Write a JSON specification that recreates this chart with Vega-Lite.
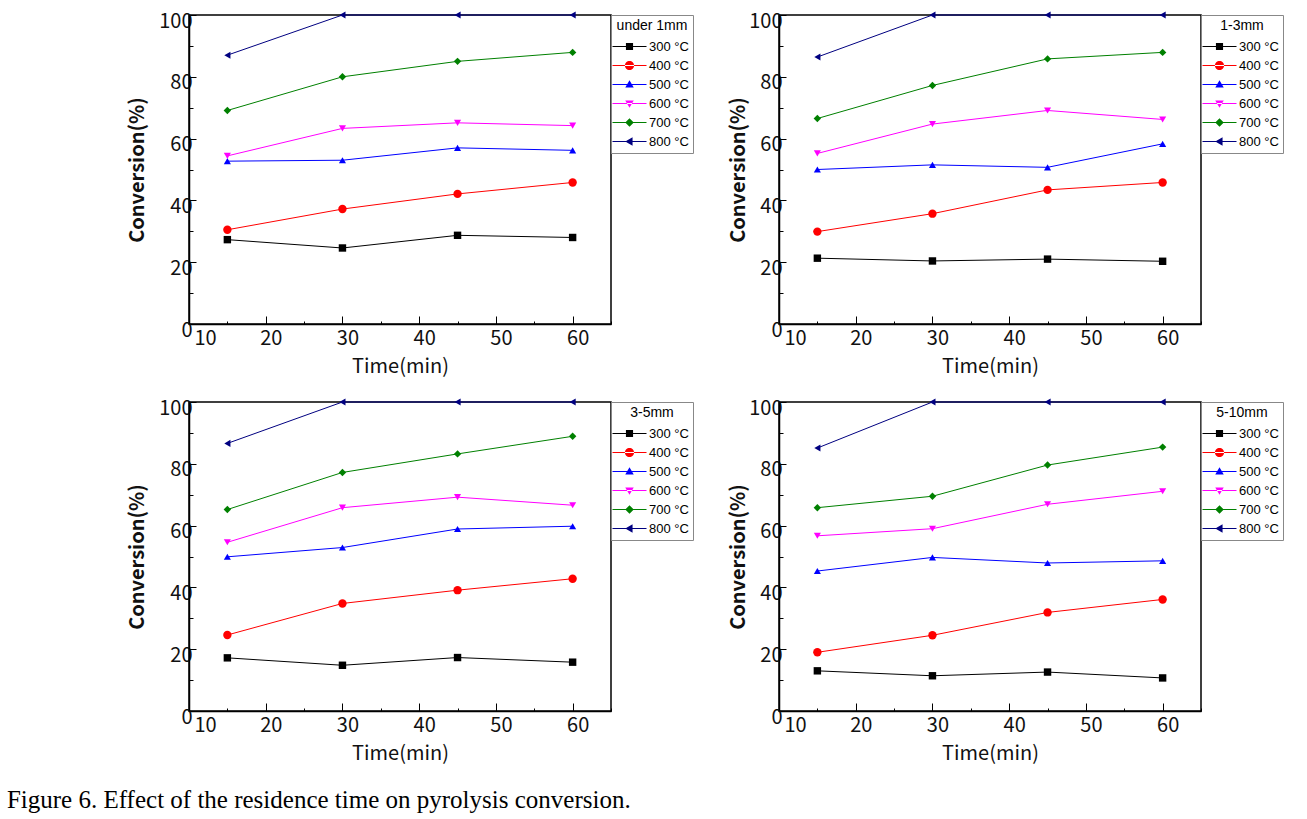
{
  "$schema": "https://vega.github.io/schema/vega-lite/v6.json",
  "padding": {"left": 6, "top": 10, "right": 0, "bottom": 0},
  "background": "white",
  "datasets": {
    "conv": [
      {"panel": "under 1mm", "temp": "300 °C", "time": 15, "conv": 27.3},
      {"panel": "under 1mm", "temp": "300 °C", "time": 30, "conv": 24.6},
      {"panel": "under 1mm", "temp": "300 °C", "time": 45, "conv": 28.7},
      {"panel": "under 1mm", "temp": "300 °C", "time": 60, "conv": 28.0},
      {"panel": "under 1mm", "temp": "400 °C", "time": 15, "conv": 30.5},
      {"panel": "under 1mm", "temp": "400 °C", "time": 30, "conv": 37.2},
      {"panel": "under 1mm", "temp": "400 °C", "time": 45, "conv": 42.1},
      {"panel": "under 1mm", "temp": "400 °C", "time": 60, "conv": 45.8},
      {"panel": "under 1mm", "temp": "500 °C", "time": 15, "conv": 52.7},
      {"panel": "under 1mm", "temp": "500 °C", "time": 30, "conv": 53.0},
      {"panel": "under 1mm", "temp": "500 °C", "time": 45, "conv": 57.0},
      {"panel": "under 1mm", "temp": "500 °C", "time": 60, "conv": 56.2},
      {"panel": "under 1mm", "temp": "600 °C", "time": 15, "conv": 54.4},
      {"panel": "under 1mm", "temp": "600 °C", "time": 30, "conv": 63.3},
      {"panel": "under 1mm", "temp": "600 °C", "time": 45, "conv": 65.1},
      {"panel": "under 1mm", "temp": "600 °C", "time": 60, "conv": 64.2},
      {"panel": "under 1mm", "temp": "700 °C", "time": 15, "conv": 69.1},
      {"panel": "under 1mm", "temp": "700 °C", "time": 30, "conv": 80.0},
      {"panel": "under 1mm", "temp": "700 °C", "time": 45, "conv": 85.0},
      {"panel": "under 1mm", "temp": "700 °C", "time": 60, "conv": 87.9},
      {"panel": "under 1mm", "temp": "800 °C", "time": 15, "conv": 87.0},
      {"panel": "under 1mm", "temp": "800 °C", "time": 30, "conv": 100},
      {"panel": "under 1mm", "temp": "800 °C", "time": 45, "conv": 100},
      {"panel": "under 1mm", "temp": "800 °C", "time": 60, "conv": 100},

      {"panel": "1-3mm", "temp": "300 °C", "time": 15, "conv": 21.3},
      {"panel": "1-3mm", "temp": "300 °C", "time": 30, "conv": 20.4},
      {"panel": "1-3mm", "temp": "300 °C", "time": 45, "conv": 21.0},
      {"panel": "1-3mm", "temp": "300 °C", "time": 60, "conv": 20.3},
      {"panel": "1-3mm", "temp": "400 °C", "time": 15, "conv": 29.9},
      {"panel": "1-3mm", "temp": "400 °C", "time": 30, "conv": 35.7},
      {"panel": "1-3mm", "temp": "400 °C", "time": 45, "conv": 43.4},
      {"panel": "1-3mm", "temp": "400 °C", "time": 60, "conv": 45.8},
      {"panel": "1-3mm", "temp": "500 °C", "time": 15, "conv": 50.0},
      {"panel": "1-3mm", "temp": "500 °C", "time": 30, "conv": 51.5},
      {"panel": "1-3mm", "temp": "500 °C", "time": 45, "conv": 50.7},
      {"panel": "1-3mm", "temp": "500 °C", "time": 60, "conv": 58.3},
      {"panel": "1-3mm", "temp": "600 °C", "time": 15, "conv": 55.2},
      {"panel": "1-3mm", "temp": "600 °C", "time": 30, "conv": 64.7},
      {"panel": "1-3mm", "temp": "600 °C", "time": 45, "conv": 69.1},
      {"panel": "1-3mm", "temp": "600 °C", "time": 60, "conv": 66.2},
      {"panel": "1-3mm", "temp": "700 °C", "time": 15, "conv": 66.5},
      {"panel": "1-3mm", "temp": "700 °C", "time": 30, "conv": 77.2},
      {"panel": "1-3mm", "temp": "700 °C", "time": 45, "conv": 85.8},
      {"panel": "1-3mm", "temp": "700 °C", "time": 60, "conv": 87.9},
      {"panel": "1-3mm", "temp": "800 °C", "time": 15, "conv": 86.4},
      {"panel": "1-3mm", "temp": "800 °C", "time": 30, "conv": 100},
      {"panel": "1-3mm", "temp": "800 °C", "time": 45, "conv": 100},
      {"panel": "1-3mm", "temp": "800 °C", "time": 60, "conv": 100},

      {"panel": "3-5mm", "temp": "300 °C", "time": 15, "conv": 17.2},
      {"panel": "3-5mm", "temp": "300 °C", "time": 30, "conv": 14.8},
      {"panel": "3-5mm", "temp": "300 °C", "time": 45, "conv": 17.3},
      {"panel": "3-5mm", "temp": "300 °C", "time": 60, "conv": 15.8},
      {"panel": "3-5mm", "temp": "400 °C", "time": 15, "conv": 24.6},
      {"panel": "3-5mm", "temp": "400 °C", "time": 30, "conv": 34.8},
      {"panel": "3-5mm", "temp": "400 °C", "time": 45, "conv": 39.1},
      {"panel": "3-5mm", "temp": "400 °C", "time": 60, "conv": 42.8},
      {"panel": "3-5mm", "temp": "500 °C", "time": 15, "conv": 49.9},
      {"panel": "3-5mm", "temp": "500 °C", "time": 30, "conv": 52.9},
      {"panel": "3-5mm", "temp": "500 °C", "time": 45, "conv": 58.9},
      {"panel": "3-5mm", "temp": "500 °C", "time": 60, "conv": 59.8},
      {"panel": "3-5mm", "temp": "600 °C", "time": 15, "conv": 54.6},
      {"panel": "3-5mm", "temp": "600 °C", "time": 30, "conv": 65.8},
      {"panel": "3-5mm", "temp": "600 °C", "time": 45, "conv": 69.2},
      {"panel": "3-5mm", "temp": "600 °C", "time": 60, "conv": 66.6},
      {"panel": "3-5mm", "temp": "700 °C", "time": 15, "conv": 65.2},
      {"panel": "3-5mm", "temp": "700 °C", "time": 30, "conv": 77.2},
      {"panel": "3-5mm", "temp": "700 °C", "time": 45, "conv": 83.2},
      {"panel": "3-5mm", "temp": "700 °C", "time": 60, "conv": 88.9},
      {"panel": "3-5mm", "temp": "800 °C", "time": 15, "conv": 86.6},
      {"panel": "3-5mm", "temp": "800 °C", "time": 30, "conv": 100},
      {"panel": "3-5mm", "temp": "800 °C", "time": 45, "conv": 100},
      {"panel": "3-5mm", "temp": "800 °C", "time": 60, "conv": 100},

      {"panel": "5-10mm", "temp": "300 °C", "time": 15, "conv": 13.0},
      {"panel": "5-10mm", "temp": "300 °C", "time": 30, "conv": 11.4},
      {"panel": "5-10mm", "temp": "300 °C", "time": 45, "conv": 12.6},
      {"panel": "5-10mm", "temp": "300 °C", "time": 60, "conv": 10.7},
      {"panel": "5-10mm", "temp": "400 °C", "time": 15, "conv": 19.0},
      {"panel": "5-10mm", "temp": "400 °C", "time": 30, "conv": 24.5},
      {"panel": "5-10mm", "temp": "400 °C", "time": 45, "conv": 31.9},
      {"panel": "5-10mm", "temp": "400 °C", "time": 60, "conv": 36.1},
      {"panel": "5-10mm", "temp": "500 °C", "time": 15, "conv": 45.3},
      {"panel": "5-10mm", "temp": "500 °C", "time": 30, "conv": 49.7},
      {"panel": "5-10mm", "temp": "500 °C", "time": 45, "conv": 47.9},
      {"panel": "5-10mm", "temp": "500 °C", "time": 60, "conv": 48.6},
      {"panel": "5-10mm", "temp": "600 °C", "time": 15, "conv": 56.7},
      {"panel": "5-10mm", "temp": "600 °C", "time": 30, "conv": 59.0},
      {"panel": "5-10mm", "temp": "600 °C", "time": 45, "conv": 66.9},
      {"panel": "5-10mm", "temp": "600 °C", "time": 60, "conv": 71.1},
      {"panel": "5-10mm", "temp": "700 °C", "time": 15, "conv": 65.8},
      {"panel": "5-10mm", "temp": "700 °C", "time": 30, "conv": 69.5},
      {"panel": "5-10mm", "temp": "700 °C", "time": 45, "conv": 79.6},
      {"panel": "5-10mm", "temp": "700 °C", "time": 60, "conv": 85.4},
      {"panel": "5-10mm", "temp": "800 °C", "time": 15, "conv": 85.1},
      {"panel": "5-10mm", "temp": "800 °C", "time": 30, "conv": 100},
      {"panel": "5-10mm", "temp": "800 °C", "time": 45, "conv": 100},
      {"panel": "5-10mm", "temp": "800 °C", "time": 60, "conv": 100}
    ]
  },
  "data": {"name": "conv"},
  "title": {
    "text": "Figure 6. Effect of the residence time on pyrolysis conversion.",
    "orient": "bottom",
    "anchor": "start",
    "frame": "bounds",
    "font": "Liberation Serif",
    "fontSize": 25,
    "fontWeight": "normal",
    "color": "black",
    "offset": 24,
    "dx": -120
  },
  "columns": 2,
  "spacing": {"column": 32, "row": 20},
  "resolve": {"scale": {"color": "independent"}, "legend": {"color": "independent"}},
  "concat": [
    {
      "width": 422, "height": 309,
      "transform": [{"filter": "datum.panel === 'under 1mm'"}],
      "encoding": {
        "x": {"field": "time", "type": "quantitative", "scale": {"domain": [10, 65], "nice": false, "zero": false}, "axis": {"title": "Time(min)"}},
        "y": {"field": "conv", "type": "quantitative", "scale": {"domain": [0, 100], "nice": false}, "axis": {"title": "Conversion(%)", "titlePadding": 11}},
        "color": {"field": "temp", "type": "nominal",
                  "scale": {"domain": ["300 °C", "400 °C", "500 °C", "600 °C", "700 °C", "800 °C"], "range": ["#000000", "#ff0000", "#0000ff", "#ff00ff", "#008000", "#000080"]},
                  "legend": {"title": "under 1mm", "symbolType": {"expr": "datum.value === '300 °C' ? 'M-2,-0.06H2V0.06H-2Z M-0.42,-0.42H0.42V0.42H-0.42Z' : datum.value === '400 °C' ? 'M-2,-0.06H2V0.06H-2Z M-0.54,0A0.54,0.54 0 1,0 0.54,0A0.54,0.54 0 1,0 -0.54,0Z' : datum.value === '500 °C' ? 'M-2,-0.06H2V0.06H-2Z M0,-0.5L0.5,0.36L-0.5,0.36Z' : datum.value === '600 °C' ? 'M-2,-0.06H2V0.06H-2Z M0,0.5L0.5,-0.36L-0.5,-0.36Z' : datum.value === '700 °C' ? 'M-2,-0.06H2V0.06H-2Z M0,-0.5L0.5,0L0,0.5L-0.5,0Z' : 'M-2,-0.06H2V0.06H-2Z M-0.5,0L0.36,-0.5L0.36,0.5Z'"}}}
      },
      "layer": [
        {"mark": {"type": "line", "strokeWidth": 1}},
        {"transform": [{"filter": "datum.temp === '300 °C'"}], "mark": {"type": "point", "shape": "square", "filled": true, "size": 55, "opacity": 1}},
        {"transform": [{"filter": "datum.temp === '400 °C'"}], "mark": {"type": "point", "shape": "circle", "filled": true, "size": 70, "opacity": 1}},
        {"transform": [{"filter": "datum.temp === '500 °C'"}], "mark": {"type": "point", "shape": "triangle-up", "filled": true, "size": 50, "opacity": 1}},
        {"transform": [{"filter": "datum.temp === '600 °C'"}], "mark": {"type": "point", "shape": "triangle-down", "filled": true, "size": 50, "opacity": 1}},
        {"transform": [{"filter": "datum.temp === '700 °C'"}], "mark": {"type": "point", "shape": "diamond", "filled": true, "size": 55, "opacity": 1}},
        {"transform": [{"filter": "datum.temp === '800 °C'"}], "mark": {"type": "point", "shape": "triangle-left", "filled": true, "size": 50, "opacity": 1}}
      ]
    },
    {
      "width": 422, "height": 309,
      "transform": [{"filter": "datum.panel === '1-3mm'"}],
      "encoding": {
        "x": {"field": "time", "type": "quantitative", "scale": {"domain": [10, 65], "nice": false, "zero": false}, "axis": {"title": "Time(min)"}},
        "y": {"field": "conv", "type": "quantitative", "scale": {"domain": [0, 100], "nice": false}, "axis": {"title": "Conversion(%)", "titlePadding": 0}},
        "color": {"field": "temp", "type": "nominal",
                  "scale": {"domain": ["300 °C", "400 °C", "500 °C", "600 °C", "700 °C", "800 °C"], "range": ["#000000", "#ff0000", "#0000ff", "#ff00ff", "#008000", "#000080"]},
                  "legend": {"title": "1-3mm", "symbolType": {"expr": "datum.value === '300 °C' ? 'M-2,-0.06H2V0.06H-2Z M-0.42,-0.42H0.42V0.42H-0.42Z' : datum.value === '400 °C' ? 'M-2,-0.06H2V0.06H-2Z M-0.54,0A0.54,0.54 0 1,0 0.54,0A0.54,0.54 0 1,0 -0.54,0Z' : datum.value === '500 °C' ? 'M-2,-0.06H2V0.06H-2Z M0,-0.5L0.5,0.36L-0.5,0.36Z' : datum.value === '600 °C' ? 'M-2,-0.06H2V0.06H-2Z M0,0.5L0.5,-0.36L-0.5,-0.36Z' : datum.value === '700 °C' ? 'M-2,-0.06H2V0.06H-2Z M0,-0.5L0.5,0L0,0.5L-0.5,0Z' : 'M-2,-0.06H2V0.06H-2Z M-0.5,0L0.36,-0.5L0.36,0.5Z'"}}}
      },
      "layer": [
        {"mark": {"type": "line", "strokeWidth": 1}},
        {"transform": [{"filter": "datum.temp === '300 °C'"}], "mark": {"type": "point", "shape": "square", "filled": true, "size": 55, "opacity": 1}},
        {"transform": [{"filter": "datum.temp === '400 °C'"}], "mark": {"type": "point", "shape": "circle", "filled": true, "size": 70, "opacity": 1}},
        {"transform": [{"filter": "datum.temp === '500 °C'"}], "mark": {"type": "point", "shape": "triangle-up", "filled": true, "size": 50, "opacity": 1}},
        {"transform": [{"filter": "datum.temp === '600 °C'"}], "mark": {"type": "point", "shape": "triangle-down", "filled": true, "size": 50, "opacity": 1}},
        {"transform": [{"filter": "datum.temp === '700 °C'"}], "mark": {"type": "point", "shape": "diamond", "filled": true, "size": 55, "opacity": 1}},
        {"transform": [{"filter": "datum.temp === '800 °C'"}], "mark": {"type": "point", "shape": "triangle-left", "filled": true, "size": 50, "opacity": 1}}
      ]
    },
    {
      "width": 422, "height": 309,
      "transform": [{"filter": "datum.panel === '3-5mm'"}],
      "encoding": {
        "x": {"field": "time", "type": "quantitative", "scale": {"domain": [10, 65], "nice": false, "zero": false}, "axis": {"title": "Time(min)"}},
        "y": {"field": "conv", "type": "quantitative", "scale": {"domain": [0, 100], "nice": false}, "axis": {"title": "Conversion(%)", "titlePadding": 11}},
        "color": {"field": "temp", "type": "nominal",
                  "scale": {"domain": ["300 °C", "400 °C", "500 °C", "600 °C", "700 °C", "800 °C"], "range": ["#000000", "#ff0000", "#0000ff", "#ff00ff", "#008000", "#000080"]},
                  "legend": {"title": "3-5mm", "symbolType": {"expr": "datum.value === '300 °C' ? 'M-2,-0.06H2V0.06H-2Z M-0.42,-0.42H0.42V0.42H-0.42Z' : datum.value === '400 °C' ? 'M-2,-0.06H2V0.06H-2Z M-0.54,0A0.54,0.54 0 1,0 0.54,0A0.54,0.54 0 1,0 -0.54,0Z' : datum.value === '500 °C' ? 'M-2,-0.06H2V0.06H-2Z M0,-0.5L0.5,0.36L-0.5,0.36Z' : datum.value === '600 °C' ? 'M-2,-0.06H2V0.06H-2Z M0,0.5L0.5,-0.36L-0.5,-0.36Z' : datum.value === '700 °C' ? 'M-2,-0.06H2V0.06H-2Z M0,-0.5L0.5,0L0,0.5L-0.5,0Z' : 'M-2,-0.06H2V0.06H-2Z M-0.5,0L0.36,-0.5L0.36,0.5Z'"}}}
      },
      "layer": [
        {"mark": {"type": "line", "strokeWidth": 1}},
        {"transform": [{"filter": "datum.temp === '300 °C'"}], "mark": {"type": "point", "shape": "square", "filled": true, "size": 55, "opacity": 1}},
        {"transform": [{"filter": "datum.temp === '400 °C'"}], "mark": {"type": "point", "shape": "circle", "filled": true, "size": 70, "opacity": 1}},
        {"transform": [{"filter": "datum.temp === '500 °C'"}], "mark": {"type": "point", "shape": "triangle-up", "filled": true, "size": 50, "opacity": 1}},
        {"transform": [{"filter": "datum.temp === '600 °C'"}], "mark": {"type": "point", "shape": "triangle-down", "filled": true, "size": 50, "opacity": 1}},
        {"transform": [{"filter": "datum.temp === '700 °C'"}], "mark": {"type": "point", "shape": "diamond", "filled": true, "size": 55, "opacity": 1}},
        {"transform": [{"filter": "datum.temp === '800 °C'"}], "mark": {"type": "point", "shape": "triangle-left", "filled": true, "size": 50, "opacity": 1}}
      ]
    },
    {
      "width": 422, "height": 309,
      "transform": [{"filter": "datum.panel === '5-10mm'"}],
      "encoding": {
        "x": {"field": "time", "type": "quantitative", "scale": {"domain": [10, 65], "nice": false, "zero": false}, "axis": {"title": "Time(min)"}},
        "y": {"field": "conv", "type": "quantitative", "scale": {"domain": [0, 100], "nice": false}, "axis": {"title": "Conversion(%)", "titlePadding": 0}},
        "color": {"field": "temp", "type": "nominal",
                  "scale": {"domain": ["300 °C", "400 °C", "500 °C", "600 °C", "700 °C", "800 °C"], "range": ["#000000", "#ff0000", "#0000ff", "#ff00ff", "#008000", "#000080"]},
                  "legend": {"title": "5-10mm", "symbolType": {"expr": "datum.value === '300 °C' ? 'M-2,-0.06H2V0.06H-2Z M-0.42,-0.42H0.42V0.42H-0.42Z' : datum.value === '400 °C' ? 'M-2,-0.06H2V0.06H-2Z M-0.54,0A0.54,0.54 0 1,0 0.54,0A0.54,0.54 0 1,0 -0.54,0Z' : datum.value === '500 °C' ? 'M-2,-0.06H2V0.06H-2Z M0,-0.5L0.5,0.36L-0.5,0.36Z' : datum.value === '600 °C' ? 'M-2,-0.06H2V0.06H-2Z M0,0.5L0.5,-0.36L-0.5,-0.36Z' : datum.value === '700 °C' ? 'M-2,-0.06H2V0.06H-2Z M0,-0.5L0.5,0L0,0.5L-0.5,0Z' : 'M-2,-0.06H2V0.06H-2Z M-0.5,0L0.36,-0.5L0.36,0.5Z'"}}}
      },
      "layer": [
        {"mark": {"type": "line", "strokeWidth": 1}},
        {"transform": [{"filter": "datum.temp === '300 °C'"}], "mark": {"type": "point", "shape": "square", "filled": true, "size": 55, "opacity": 1}},
        {"transform": [{"filter": "datum.temp === '400 °C'"}], "mark": {"type": "point", "shape": "circle", "filled": true, "size": 70, "opacity": 1}},
        {"transform": [{"filter": "datum.temp === '500 °C'"}], "mark": {"type": "point", "shape": "triangle-up", "filled": true, "size": 50, "opacity": 1}},
        {"transform": [{"filter": "datum.temp === '600 °C'"}], "mark": {"type": "point", "shape": "triangle-down", "filled": true, "size": 50, "opacity": 1}},
        {"transform": [{"filter": "datum.temp === '700 °C'"}], "mark": {"type": "point", "shape": "diamond", "filled": true, "size": 55, "opacity": 1}},
        {"transform": [{"filter": "datum.temp === '800 °C'"}], "mark": {"type": "point", "shape": "triangle-left", "filled": true, "size": 50, "opacity": 1}}
      ]
    }
  ],
  "config": {
    "view": {"stroke": "black", "strokeWidth": 1.5},
    "axis": {
      "grid": false,
      "domainColor": "black",
      "domainWidth": 1.5,
      "tickColor": "black",
      "tickWidth": 1,
      "labelFont": "Noto Sans CJK KR",
      "labelFontSize": 20,
      "labelColor": "#111111",
      "titleFont": "Noto Sans CJK KR",
      "titleFontSize": 20,
      "titleColor": "#111111"
    },
    "axisY": {
      "values": [0, 10, 20, 30, 40, 50, 60, 70, 80, 90, 100],
      "labelExpr": "datum.value % 20 === 0 ? datum.label : ''",
      "tickSize": {"condition": {"test": "datum.value % 20 === 0", "value": -7}, "value": -4},
      "labelPadding": 4,
      "labelOffset": 6,
      "titleFontWeight": "bold"
    },
    "axisX": {
      "values": [10, 15, 20, 25, 30, 35, 40, 45, 50, 55, 60],
      "labelExpr": "datum.value % 10 === 0 ? datum.label : ''",
      "tickSize": {"condition": {"test": "datum.value % 10 === 0", "value": -8}, "value": -3},
      "labelPadding": 12,
      "labelOffset": 5,
      "titleFontWeight": "normal",
      "titlePadding": 8
    },
    "legend": {
      "orient": "right",
      "offset": 0,
      "padding": 4,
      "strokeColor": "#888888",
      "fillColor": "white",
      "titleFont": "Liberation Sans",
      "titleFontSize": 14,
      "titleFontWeight": "normal",
      "titleColor": "black",
      "titleAnchor": "middle",
      "titlePadding": 5,
      "labelFont": "Liberation Sans",
      "labelFontSize": 13,
      "labelColor": "black",
      "rowPadding": 3,
      "symbolSize": 289,
      "symbolOffset": 6,
      "symbolStrokeWidth": 0,
      "symbolOpacity": 1,
      "labelOffset": 11
    }
  }
}
